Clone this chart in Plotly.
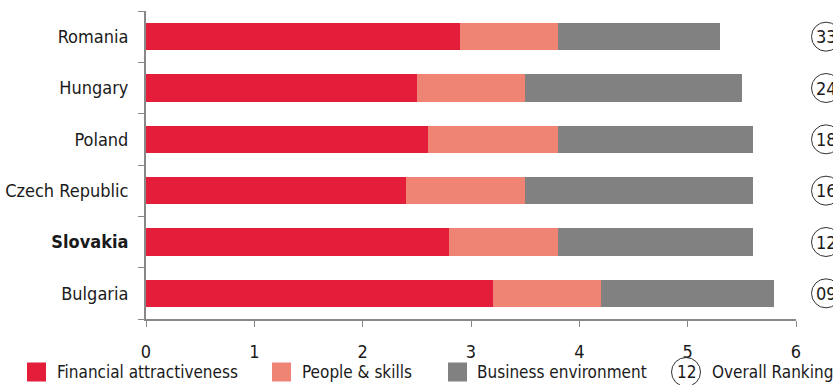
import plotly.graph_objects as go

countries = ["Romania", "Hungary", "Poland", "Czech Republic", "Slovakia", "Bulgaria"]
financial = [2.9, 2.5, 2.6, 2.4, 2.8, 3.2]
people = [0.9, 1.0, 1.2, 1.1, 1.0, 1.0]
business = [1.5, 2.0, 1.8, 2.1, 1.8, 1.6]
rankings = ["33", "24", "18", "16", "12", "09"]
series_names = ["Financial attractiveness", "People & skills", "Business environment"]
colors = ["#E31D3A", "#F08474", "#818181"]
x_ticks = [0, 1, 2, 3, 4, 5, 6]
legend_rank_example = "12"
legend_rank_label = "Overall Ranking"

FONT = "DejaVu Sans Condensed, Liberation Sans Narrow, sans-serif"
FS = 18
LFS = 17
TXT = "#1a1a1a"

W, H = 833, 385
L, R, T, B = 146, 37, 11, 66
pw, ph = W - L - R, H - T - B

fig = go.Figure()
for name, vals, col in zip(series_names, [financial, people, business], colors):
    fig.add_trace(go.Bar(y=countries, x=vals, name=name, orientation="h",
                         marker=dict(color=col, line=dict(width=0)), width=0.53,
                         showlegend=False, hoverinfo="x+name"))

def px2paper_x(px):
    return (px - L) / pw

def px2paper_y(py):
    return 1 - (py - T) / ph

shapes = []
annotations = []
n = len(countries)
r = 14.5
cx = 826
for i, rk in enumerate(rankings):
    yc = 1 - (i + 0.5) / n
    ycp = T + (1 - yc) * ph
    shapes.append(dict(type="circle", xref="paper", yref="paper",
                       x0=px2paper_x(cx - r), x1=px2paper_x(cx + r),
                       y0=px2paper_y(ycp + r), y1=px2paper_y(ycp - r),
                       line=dict(color="#333333", width=1), fillcolor="rgba(0,0,0,0)"))
    annotations.append(dict(xref="paper", yref="paper", x=px2paper_x(cx), y=yc,
                            text=rk, showarrow=False, xanchor="center", yanchor="middle",
                            font=dict(family=FONT, size=FS, color=TXT)))

# legend
leg_y = 372
sq = 19
leg_items = [(27, 55), (272, 300), (448, 475)]
for (sx, tx), name, col in zip(leg_items, series_names, colors):
    shapes.append(dict(type="rect", xref="paper", yref="paper",
                       x0=px2paper_x(sx), x1=px2paper_x(sx + sq),
                       y0=px2paper_y(leg_y + sq / 2), y1=px2paper_y(leg_y - sq / 2),
                       line=dict(width=0), fillcolor=col))
    annotations.append(dict(xref="paper", yref="paper", x=px2paper_x(tx), y=px2paper_y(leg_y),
                            text=name, showarrow=False, xanchor="left", yanchor="middle",
                            font=dict(family=FONT, size=LFS, color=TXT)))
lcx = 686
shapes.append(dict(type="circle", xref="paper", yref="paper",
                   x0=px2paper_x(lcx - r), x1=px2paper_x(lcx + r),
                   y0=px2paper_y(leg_y + r), y1=px2paper_y(leg_y - r),
                   line=dict(color="#333333", width=1), fillcolor="rgba(0,0,0,0)"))
annotations.append(dict(xref="paper", yref="paper", x=px2paper_x(lcx), y=px2paper_y(leg_y),
                        text=legend_rank_example, showarrow=False, xanchor="center", yanchor="middle",
                        font=dict(family=FONT, size=LFS, color=TXT)))
annotations.append(dict(xref="paper", yref="paper", x=px2paper_x(710), y=px2paper_y(leg_y),
                        text=legend_rank_label, showarrow=False, xanchor="left", yanchor="middle",
                        font=dict(family=FONT, size=LFS, color=TXT)))

ticktext = ["<b>%s</b>" % c if c == "Slovakia" else c for c in countries]

fig.update_layout(
    width=W, height=H, barmode="stack", bargap=0.47,
    margin=dict(l=L, r=R, t=T, b=B, pad=0, autoexpand=False),
    paper_bgcolor="white", plot_bgcolor="white",
    font=dict(family=FONT, size=FS, color=TXT),
    shapes=shapes, annotations=annotations,
    xaxis=dict(range=[0, 6], tickvals=x_ticks, ticks="outside", ticklen=6, tickcolor="#888888",
               showline=True, linecolor="#888888", linewidth=2, showgrid=False, zeroline=False,
               automargin=False,
               tickfont=dict(family=FONT, size=FS, color=TXT), ticklabelstandoff=9, fixedrange=True),
    yaxis=dict(autorange="reversed", tickmode="array", tickvals=countries, ticktext=ticktext,
               tickson="boundaries", ticks="outside", ticklen=6, tickcolor="#888888",
               showline=True, linecolor="#888888", linewidth=2, showgrid=False, zeroline=False,
               automargin=False,
               tickfont=dict(family=FONT, size=FS, color=TXT), ticklabelstandoff=12, fixedrange=True),
)

fig.write_html("out.html", config={"displayModeBar": False},
               post_script="document.body.style.margin='0';document.body.style.overflow='hidden';")
